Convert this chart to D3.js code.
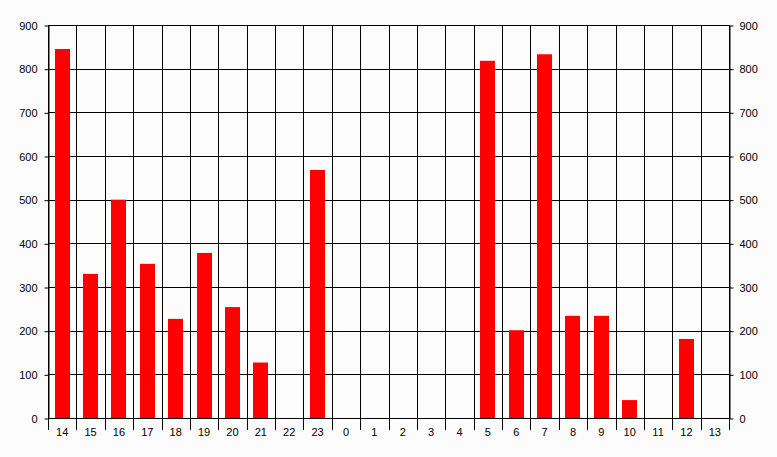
<!DOCTYPE html>
<html><head><meta charset="utf-8">
<script src="https://cdn.jsdelivr.net/npm/d3@7"></script>
<style>body{margin:0;background:#fcfcfc;}svg{display:block;}</style>
</head><body>
<svg id="c" width="777" height="457"></svg>
<script>
const categories = ["14","15","16","17","18","19","20","21","22","23","0","1","2","3","4","5","6","7","8","9","10","11","12","13"];
const values = [845,330,500,353,227,378,254,127,0,568,0,0,0,0,0,818,201,833,234,234,41,0,181,0];
const yTicks = [0,100,200,300,400,500,600,700,800,900];

const svg = d3.select("#c");
const L = 48, R = 729, T = 25, B = 418;
const x = d3.scaleBand().domain(categories).range([L, R]);
const y = d3.scaleLinear().domain([0, 900]).range([B, T]);
const font = "'Liberation Sans', Arial, sans-serif";

svg.append("rect").attr("width",777).attr("height",457).attr("fill","#fcfcfc");

// horizontal grid
svg.append("g").selectAll("line").data(yTicks).join("line")
  .attr("x1", L).attr("x2", R)
  .attr("y1", d => Math.round(y(d)) + 0.5).attr("y2", d => Math.round(y(d)) + 0.5)
  .attr("stroke", "#000");

// vertical grid at band boundaries
const bounds = categories.map(c => x(c)).concat([R]);
svg.append("g").selectAll("line").data(bounds).join("line")
  .attr("x1", d => Math.round(d) + 0.5).attr("x2", d => Math.round(d) + 0.5)
  .attr("y1", T).attr("y2", 430)
  .attr("stroke", "#000");

// bars
const bw = 15;
svg.append("g").selectAll("rect").data(values).join("rect")
  .attr("x", (d, i) => Math.round(x(categories[i]) + x.bandwidth() / 2 - bw / 2))
  .attr("width", bw)
  .attr("y", d => y(d))
  .attr("height", d => B - y(d))
  .attr("fill", "#ff0000");

// redraw bottom axis line over bars
svg.append("line").attr("x1", L).attr("x2", R).attr("y1", B + 0.5).attr("y2", B + 0.5).attr("stroke", "#000");

// left axis
const left = svg.append("g").attr("transform", `translate(${L + 0.5},0.5)`)
  .call(d3.axisLeft(y).tickValues(yTicks).tickSize(4).tickPadding(7).tickSizeOuter(0));
left.select(".domain").attr("stroke", "#000");
left.selectAll("text").attr("font-family", font).attr("font-size", 11).attr("fill", "#000");
left.selectAll("line").attr("stroke","#000");

// right axis
const right = svg.append("g").attr("transform", `translate(${R + 0.5},0.5)`)
  .call(d3.axisRight(y).tickValues(yTicks).tickSize(4).tickPadding(6).tickSizeOuter(0));
right.select(".domain").attr("stroke", "#000");
right.selectAll("text").attr("font-family", font).attr("font-size", 11).attr("fill", "#000");
right.selectAll("line").attr("stroke","#000");

// x labels
svg.append("g").selectAll("text").data(categories).join("text")
  .attr("x", d => x(d) + x.bandwidth() / 2)
  .attr("y", 436)
  .attr("text-anchor", "middle")
  .attr("font-family", font).attr("font-size", 11).attr("fill", "#000")
  .text(d => d);
</script>
</body></html>
